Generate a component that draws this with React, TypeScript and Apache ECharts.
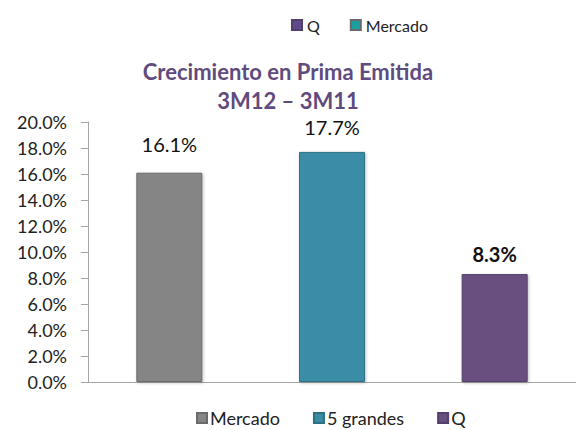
import React, { useEffect, useRef } from "react";
import * as echarts from "echarts";

const categories = ["Mercado", "5 grandes", "Q"];
const seriesNames = ["Mercado", "5 grandes", "Q"];
const values = [16.1, 17.7, 8.3];
const barColors = ["#858585", "#3a8ca6", "#67507f"];
const borderColors = ["#6a6a6a", "#2d7086", "#52406a"];
const boldLabel = [false, false, true];
const labelDistances = [19, 15, 10];
const topLegendNames = ["Q", "Mercado"];
const topLegendColors = ["#5e4a8b", "#1aa0a0"];
const titleText = "Crecimiento en Prima Emitida\n3M12 – 3M11";

const FONT = "Lato, 'Open Sans', sans-serif";

export default function App() {
  const ref = useRef<HTMLDivElement>(null);
  useEffect(() => {
    if (!ref.current) return;
    const chart = echarts.init(ref.current, undefined, { renderer: "svg" });
    const series = seriesNames.map((name, i) => ({
      name,
      type: "bar",
      barWidth: 66,
      barGap: "-100%",
      data: categories.map((_, j) => (j === i ? values[i] : "-")),
      itemStyle: {
        color: barColors[i],
        borderColor: borderColors[i],
        borderWidth: 1,
        shadowColor: "rgba(0,0,0,0.25)",
        shadowBlur: 3,
        shadowOffsetX: 1,
        shadowOffsetY: 1,
      },
      label: {
        show: true,
        position: "top",
        distance: labelDistances[i],
        fontFamily: FONT,
        fontSize: 20,
        fontWeight: boldLabel[i] ? "bold" : "normal",
        color: "#111",
        formatter: (p: any) => `${Number(p.value).toFixed(1)}%`,
      },
    }));
    chart.setOption({
      animation: false,
      textStyle: { fontFamily: FONT },
      title: {
        text: titleText,
        left: "center",
        top: 52,
        textStyle: {
          fontFamily: FONT,
          fontSize: 22,
          fontWeight: "bold",
          color: "#5f4b7e",
          lineHeight: 29,
        },
      },
      legend: [
        {
          top: 409,
          left: 196,
          padding: 0,
          itemWidth: 10,
          itemHeight: 10,
          itemGap: 33,
          icon: "rect",
          data: seriesNames,
          textStyle: { fontFamily: FONT, fontSize: 18, lineHeight: 18, color: "#222", padding: [0, 0, 0, -2] },
        },
        {
          top: 12,
          left: 286,
          itemWidth: 10,
          itemHeight: 10,
          itemGap: 30,
          icon: "rect",
          selectedMode: false,
          data: topLegendNames.map((n, i) => ({ name: n, itemStyle: { color: topLegendColors[i] } })),
          textStyle: { fontFamily: FONT, fontSize: 16, color: "#222" },
        },
      ],
      grid: { left: 88, right: -5, top: 122, bottom: 48 },
      xAxis: {
        type: "category",
        data: categories,
        axisLine: { lineStyle: { color: "#a6a6a6", width: 1 } },
        axisTick: { inside: true, length: 7, lineStyle: { color: "#a6a6a6" } },
        axisLabel: { show: false },
      },
      yAxis: {
        type: "value",
        min: 0,
        max: 20,
        interval: 2,
        splitLine: { show: false },
        axisLine: { show: true, lineStyle: { color: "#a6a6a6", width: 1 } },
        axisTick: { show: true, length: 7, lineStyle: { color: "#a6a6a6" } },
        axisLabel: {
          margin: 21,
          fontFamily: FONT,
          fontSize: 18,
          color: "#222",
          formatter: (v: number) => `${v.toFixed(1)}%`,
        },
      },
      series,
    });
    return () => chart.dispose();
  }, []);
  return (
    <div
      ref={ref}
      style={{ position: "fixed", left: 0, top: 0, width: 576, height: 430, background: "#fff" }}
    />
  );
}
